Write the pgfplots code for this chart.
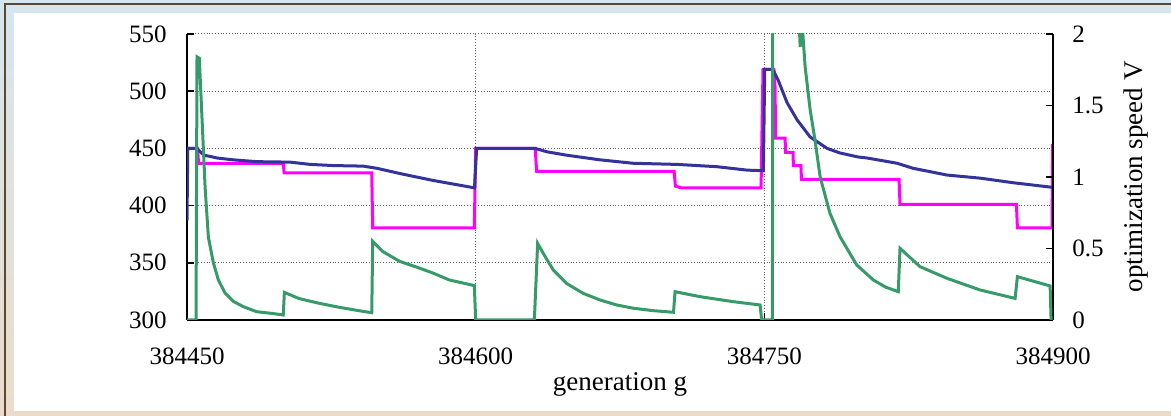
\documentclass[border=0pt]{standalone}
\usepackage{fontspec}
\setmainfont{Liberation Serif}
\usepackage{pgfplots}
\usepackage{pgfplotstable}
\pgfplotsset{compat=1.18}

\definecolor{bestblue}{HTML}{333399}
\definecolor{curmag}{HTML}{FF00FF}
\definecolor{speedgreen}{HTML}{379A69}
\definecolor{frametop}{HTML}{D6E6EF}
\definecolor{framebot}{HTML}{EBDCCA}
\definecolor{frameline}{HTML}{5B4830}

% best value so far (left axis)
\pgfplotstableread{
g f
384450 387
384450.4 450
384455.2 450
384457.5 446
384459 444
384462 443
384465.6 441.6
384474 440
384486.4 438.4
384503.5 438
384514 436
384526 435
384541.5 434.5
384548.7 432.6
384560.7 428
384577.8 422
384599.4 415.5
384600.5 450
384630.9 450
384637.1 447
384647.5 444
384664.6 440
384681.8 437
384704.7 436
384725.4 434
384741 431
384749.5 430.5
384750.2 519
384754 519
384755 517
384757.1 510
384761.8 490
384767 475
384773.8 460
384782.6 450
384789.3 446
384798.7 442.5
384803.4 441.6
384819 437
384827.3 432.6
384844.9 426.7
384862.1 424
384879.2 420
384899.5 416
}\bluedata

% current value (left axis)
\pgfplotstableread{
g f
384450 450
384455.5 450
384456 437
384500 437
384500.5 428.5
384546 428.5
384546.5 380.5
384599.3 380.5
384600 450
384630.9 450
384631.7 430
384703.1 430
384703.8 417
384707 415.5
384748.3 415.5
384749.3 519
384755 519
384755.6 503
384755.8 459
384760.8 459
384761 446.5
384764.9 446.5
384765.1 435
384769 435
384769.3 423
384820 423
384820.5 401
384881 401
384881.5 380.5
384899.5 380.5
384899.8 454
}\magdata

% optimization speed V (right axis)
\pgfplotstableread{
g v
384450 0
384454.7 0
384455.2 1.84
384456.4 1.83
384459.4 0.93
384461.1 0.58
384463.7 0.40
384466.3 0.28
384469.7 0.19
384474.1 0.13
384479.3 0.093
384486.2 0.058
384494.8 0.045
384500.0 0.035
384500.6 0.193
384508.2 0.15
384518.6 0.117
384529.0 0.089
384539.4 0.065
384546.0 0.051
384546.5 0.55
384551.6 0.48
384560.5 0.41
384569.3 0.37
384577.5 0.33
384586.3 0.28
384597.8 0.245
384599.3 0.24
384600 0
384630.5 0
384632.2 0.536
384635.1 0.466
384640.3 0.35
384647.2 0.256
384655.9 0.186
384664.6 0.14
384673.3 0.105
384682.0 0.082
384692.4 0.065
384702.8 0.054
384703.6 0.198
384716.6 0.163
384733.9 0.128
384747.8 0.105
384748.6 0
384754.2 0
384754.7 6
384760 3.6
384767.5 2.3
384768.6 1.91
384769.6 2.08
384771.2 1.77
384773.8 1.47
384776.3 1.26
384779.0 1.00
384784.1 0.746
384789.3 0.583
384798.0 0.385
384806.6 0.28
384813 0.23
384819.6 0.198
384820.5 0.501
384830.9 0.373
384844.8 0.292
384862.1 0.21
384880.3 0.151
384881.5 0.303
384898.5 0.238
384899.0 0
}\greendata

\pgfplotsset{
  twin/.style={
    scale only axis, width=433pt, height=143pt,
    at={(93.5pt,48pt)}, anchor=south west,
    xmin=384450, xmax=384900,
    xtick={384450,384600,384750,384900},
    xticklabels={384450,384600,384750,384900},
    scaled x ticks=false,
    /pgf/number format/assume math mode=true,
    tick align=inside,
    major tick length=3.5pt,
    tick style={black, line width=0.8pt},
    axis line style={-, black, line width=0.9pt},
    tick label style={font=\fontsize{12.5}{15}\selectfont},
    yticklabel style={inner sep=0pt},
    xticklabel style={anchor=base, inner sep=0pt, yshift=-22.5pt},
    major grid style={gray!80!black, densely dotted, line width=0.5pt},
  }
}

\begin{document}
\begin{tikzpicture}[x=1pt,y=1pt]
\useasboundingbox (0,0) rectangle (585.5,208);
\shade[top color=frametop, bottom color=framebot] (0,0) rectangle (585.5,208);
\fill[white] (7,2.5) rectangle (585.5,201.5);
\draw[frameline, line width=1pt] (2.3,0) -- (2.3,205.8) -- (585.5,205.8);

\begin{axis}[twin,
  ymin=300, ymax=550,
  ytick={300,350,400,450,500,550},
  axis x line*=bottom, axis y line*=left,
  xmajorgrids, ymajorgrids,
  yticklabel style={anchor=east, xshift=-10pt},
  every axis x label/.style={at={(axis description cs:0.5,-0.2448)}, anchor=base, inner sep=0pt, font=\fontsize{13.5}{16}\selectfont},
  xlabel={generation g},
]
\addplot[curmag, line width=1.5pt] table[x=g, y=f] {\magdata};
\addplot[bestblue, line width=1.5pt] table[x=g, y=f] {\bluedata};
\end{axis}

\begin{axis}[twin,
  ymin=0, ymax=2,
  ytick={0,0.5,1,1.5,2},
  axis x line=none, axis y line*=right,
  yticklabel style={anchor=west, xshift=9.5pt},
  every axis y label/.style={at={(axis description cs:1.1028,0.5)}, rotate=90, anchor=base, inner sep=0pt, font=\fontsize{13.5}{16}\selectfont},
  ylabel={optimization speed V},
]
\addplot[speedgreen, line width=1.5pt] table[x=g, y=v] {\greendata};
\end{axis}
\end{tikzpicture}
\end{document}
